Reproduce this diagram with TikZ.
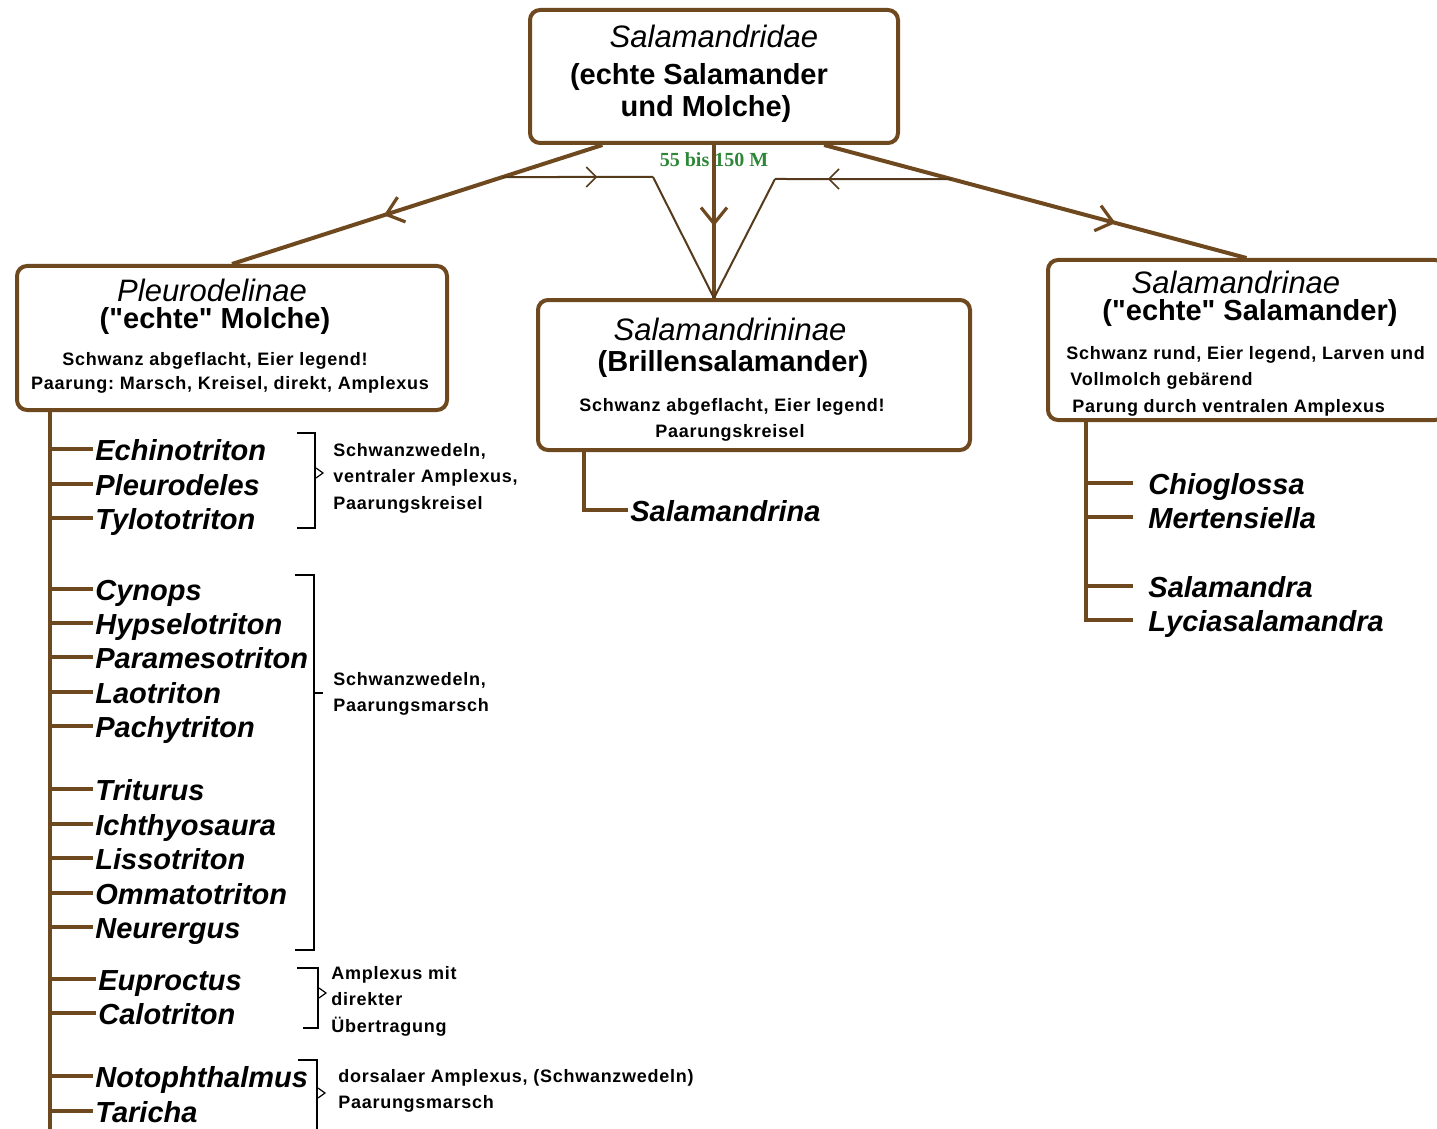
\documentclass[tikz,border=0pt]{standalone}
\usepackage{fontspec}
\setmainfont{Liberation Sans}[Ligatures=TeXOff]
\newfontfamily\greenfont{Liberation Serif}
\newfontfamily\notefont{Liberation Sans}[LetterSpace=4]
\usepackage{xcolor}
\usepackage{tikz}
\usetikzlibrary{arrows.meta,decorations.markings,calc}
\definecolor{brownline}{RGB}{110,72,30}
\definecolor{thinbrown}{RGB}{85,58,28}
\definecolor{labelgreen}{RGB}{45,135,55}
\frenchspacing

\begin{document}
\begin{tikzpicture}[
  x=0.5pt, y=-0.5pt,
  box/.style={draw=brownline, line width=2pt, rounded corners=5pt, fill=white, inner sep=0pt},
  ttl/.style={font=\fontsize{15.5}{18}\selectfont\itshape, inner sep=0pt},
  sub/.style={font=\fontsize{14.5}{17}\selectfont\bfseries, inner sep=0pt},
  note/.style={font=\notefont\fontsize{9}{13.3}\selectfont\bfseries, inner sep=0pt},
  genus/.style={font=\fontsize{14.5}{17}\selectfont\bfseries\itshape, anchor=west, text height=11pt, text depth=0pt, inner sep=1pt},
  rgenus/.style={genus, inner xsep=7.5pt},
  main/.style={draw=brownline, color=brownline, line width=2pt},
  thinl/.style={draw=thinbrown, color=thinbrown, line width=1pt},
  tick/.style={draw=brownline, line width=1.6pt},
  brk/.style={draw=black, line width=0.6pt},
  bigv/.style={postaction={decorate}, decoration={markings, mark=at position #1 with {\arrow[line width=1.6pt]{Straight Barb[length=8pt,width=13pt]}}}},
  smallv/.style={postaction={decorate}, decoration={markings, mark=at position #1 with {\arrow[line width=0.8pt]{Straight Barb[length=5pt,width=10pt]}}}}
]
\clip (0,0) rectangle (1437,1129);

% boxes
\node[box, minimum width=184pt, minimum height=66.5pt] (fam) at (714,76.5) {};
\node[box, minimum width=215pt, minimum height=72pt] (pleuro) at (232,338) {};
\node[box, minimum width=216pt, minimum height=75pt] (brillen) at (754,375) {};
\node[box, minimum width=198.5pt, minimum height=80pt] (salam) at (1246.5,340) {};

% box texts
\node[ttl] (famname) at (714,36) {Salamandridae};
\node[sub] (famsuba) at (699,77) {(echte Salamander};
\node[sub] (famsubb) at (706,109) {und Molche)};

\node[ttl] (pleuroname) at (212,290) {Pleurodelinae};
\node[sub] (pleurosub) at (215,321) {("echte" Molche)};
\node[note] (pleuroa) at (215,361) {Schwanz abgeflacht, Eier legend!};
\node[note] (pleurob) at (230,385) {Paarung: Marsch, Kreisel, direkt, Amplexus};

\node[ttl] (brillenname) at (730,329) {Salamandrininae};
\node[sub] (brillensub) at (733,364) {(Brillensalamander)};
\node[note] (brillena) at (732,407) {Schwanz abgeflacht, Eier legend!};
\node[note] (brillenb) at (730,433) {Paarungskreisel};

\node[ttl] (salamname) at (1236,282) {Salamandrinae};
\node[sub] (salamsub) at (1250,313) {("echte" Salamander)};
\node[note, anchor=west] (salama) at (1066,355) {Schwanz rund, Eier legend, Larven und};
\node[note, anchor=west] (salamb) at (1070,381) {Vollmolch gebärend};
\node[note, anchor=west] (salamc) at (1072,408) {Parung durch ventralen Amplexus};

% connectors from the family box
\node[font=\greenfont\fontsize{10}{12}\selectfont\bfseries, text=labelgreen, inner sep=0pt] (age) at (714,160) {55 bis 150 M};
\coordinate (fL) at ($(fam.south west)!0.2!(fam.south east)$);
\coordinate (fR) at ($(fam.south west)!0.796!(fam.south east)$);
\coordinate (bt) at (fam.south |- brillen.north);
\coordinate (cL) at (653,177);
\coordinate (cLo) at (300,177);
\coordinate (cR) at (775,179);
\coordinate (cRo) at (1100,179);
\draw[main, bigv=0.59] (fL) -- (pleuro.north);
\draw[main, bigv=0.69] (fR) -- (salam.north);
\draw[main, line width=1.6pt, bigv=0.53] (fam.south) -- (bt);
\draw[thinl, smallv=0.63] (intersection of fL--pleuro.north and cLo--cL) -- (cL);
\draw[thinl] (cL) -- (bt);
\draw[thinl, smallv=0.7] (intersection of fR--salam.north and cRo--cR) -- (cR);
\draw[thinl] (cR) -- (bt);

% Pleurodelinae genera
\coordinate (lspine) at (50,1135);
\draw[main] (lspine |- pleuro.south) -- (lspine);
\node[genus] (echino) at (93,449) {Echinotriton};
\node[genus] (pleurod) at (93,484) {Pleurodeles};
\node[genus] (tylo) at (93,518) {Tylototriton};
\node[genus] (cynops) at (93,589) {Cynops};
\node[genus] (hypselo) at (93,623) {Hypselotriton};
\node[genus] (parameso) at (93,657) {Paramesotriton};
\node[genus] (lao) at (93,692) {Laotriton};
\node[genus] (pachy) at (93,726) {Pachytriton};
\node[genus] (triturus) at (93,789) {Triturus};
\node[genus] (ichthyo) at (93,824) {Ichthyosaura};
\node[genus] (lisso) at (93,858) {Lissotriton};
\node[genus] (ommato) at (93,893) {Ommatotriton};
\node[genus] (neurergus) at (93,927) {Neurergus};
\node[genus] (euproctus) at (96,979) {Euproctus};
\node[genus] (calo) at (96,1013) {Calotriton};
\node[genus] (noto) at (93,1076) {Notophthalmus};
\node[genus] (taricha) at (93,1111) {Taricha};
\foreach \g in {echino,pleurod,tylo,cynops,hypselo,parameso,lao,pachy,triturus,ichthyo,lisso,ommato,neurergus,euproctus,calo,noto,taricha}
  \draw[tick] (lspine |- \g.west) -- (\g.west);

% brackets and their notes
\draw[brk] (297,433) -- (315,433) -- (315,528) -- (297,528);
\draw[brk] (316,468) -- (323,473) -- (316,478);
\node[note, anchor=west, align=left] (grpa) at (333,478) {Schwanzwedeln,\\ventraler Amplexus,\\Paarungskreisel};
\draw[brk] (295,575) -- (314,575) -- (314,950) -- (295,950);
\draw[brk] (314,693) -- (323,693);
\node[note, anchor=west, align=left] (grpb) at (333,694) {Schwanzwedeln,\\Paarungsmarsch};
\draw[brk] (297,968) -- (318,968) -- (318,1028) -- (303,1028);
\draw[brk] (319,988) -- (326,993) -- (319,998);
\node[note, anchor=west, align=left] (grpc) at (331,1001) {Amplexus mit\\direkter\\Übertragung};
\draw[brk] (298,1060) -- (317,1060) -- (317,1140);
\draw[brk] (318,1088) -- (325,1093) -- (318,1098);
\node[note, anchor=west, align=left] (grpd) at (338,1091) {dorsalaer Amplexus, (Schwanzwedeln)\\Paarungsmarsch};

% Salamandrininae genus
\coordinate (bspine) at (584,450);
\node[genus] (salamandrina) at (628,510) {Salamandrina};
\draw[main] (bspine |- brillen.south) |- (salamandrina.west);

% Salamandrinae genera
\coordinate (rspine) at (1086,622);
\draw[main] (rspine |- salam.south) -- (rspine);
\node[rgenus] (chio) at (1133,483) {Chioglossa};
\node[rgenus] (merten) at (1133,517) {Mertensiella};
\node[rgenus] (salamandra) at (1133,586) {Salamandra};
\node[rgenus] (lycia) at (1133,620) {Lyciasalamandra};
\draw[tick] (rspine |- chio.west) -- (chio.west);
\draw[tick] (rspine |- merten.west) -- (merten.west);
\draw[tick] (rspine |- salamandra.west) -- (salamandra.west);
\draw[tick] (rspine |- lycia.west) -- (lycia.west);
\end{tikzpicture}
\end{document}
